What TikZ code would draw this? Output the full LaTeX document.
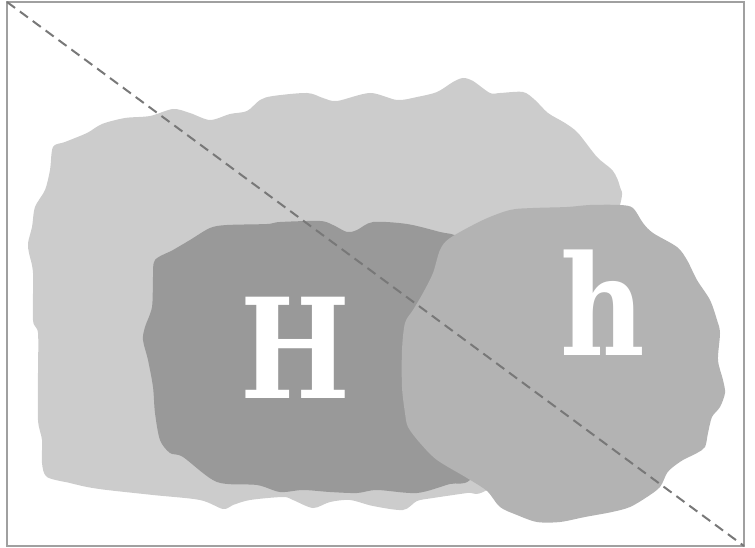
\documentclass[tikz,border=0pt]{standalone}
\usepackage{fontspec}
\newfontfamily\letterfont[FakeStretch=0.93]{DejaVu Serif Condensed}
\usetikzlibrary{positioning}
\definecolor{blobpale}{RGB}{204,204,204}
\definecolor{blobdark}{RGB}{153,153,153}
\definecolor{blobmid}{RGB}{179,179,179}
\definecolor{framegray}{RGB}{160,160,160}
\definecolor{diaggray}{RGB}{120,120,120}

\begin{document}
\begin{tikzpicture}[
        x=1pt, y=-1pt,
        blob/.style={line join=round},
        letter/.style={text=white, font=\letterfont\bfseries\fontsize{139}{139}\selectfont, inner sep=0pt, anchor=base},
        diagline/.style={diaggray, line width=2pt, dash pattern=on 10pt off 6pt}
    ]
        \useasboundingbox (0,0) rectangle (755,548);

        % large pale region
        \fill[blobpale, blob] plot[smooth cycle, tension=0.5] coordinates {
            (53,147) (65,142) (87,133) (102,124) (125,118) (150,116) (173,109)
            (190,113) (210,120) (230,114) (247,111) (260,100) (273,96) (307,93)
            (323,98) (337,101) (370,93) (397,100) (417,97) (437,92) (453,82)
            (463,78) (473,81) (490,93) (500,93) (523,92) (535,100) (548,113)
            (565,123) (578,133) (597,157) (613,171) (620,187) (620,205)
            (590,300) (560,440) (487,490) (467,493) (433,498) (417,501)
            (403,510) (373,506) (350,500) (330,502) (313,508) (293,500)
            (283,497) (250,500) (233,505) (223,509) (200,500) (153,495)
            (107,490) (87,487) (70,483) (47,477) (42,463) (42,440) (38,420)
            (38,373) (38,333) (33,320) (33,273) (29,253) (28,243) (32,227)
            (35,207) (45,190) (50,170)};

        % dark region
        \fill[blobdark, blob] plot[smooth cycle, tension=0.5] coordinates {
            (155,260) (173,250) (190,240) (210,228) (227,225) (267,224)
            (280,222) (320,221) (333,225) (347,232) (357,230) (373,222)
            (407,224) (440,232) (460,238) (490,270) (500,340) (500,440)
            (470,480) (450,484) (417,493) (377,490) (357,493) (330,492)
            (303,490) (280,492) (257,485) (217,482) (183,457) (170,453)
            (160,440) (155,413) (153,387) (148,360) (143,340) (145,327)
            (152,307) (153,277)};

        % round region
        \fill[blobmid, blob] plot[smooth cycle, tension=0.5] coordinates {
            (450,238) (483,220) (510,210) (533,208) (567,207) (590,205)
            (620,205) (633,208) (643,223) (653,233) (677,247) (687,260)
            (697,280) (710,300) (717,320) (720,333) (718,360) (723,380)
            (725,393) (720,407) (712,417) (708,433) (705,447) (697,453)
            (683,460) (673,467) (667,473) (660,487) (647,497) (630,507)
            (612,512) (585,517) (560,522) (537,522) (517,515) (500,507)
            (487,491) (467,478) (437,460) (420,443) (408,427) (405,413)
            (402,387) (402,350) (405,323) (413,310) (423,293) (433,273)
            (440,250)};

        \node[letter] (bigH) at (295,398) {H};
        \node[letter] (smallh) at (603,355) {h};

        % frame and diagonal
        \coordinate (topleft) at (7,2);
        \coordinate (botright) at (744,546);
        \draw[framegray, line width=1.5pt] (topleft) rectangle (botright);
        \draw[diagline] (topleft) -- (botright);
    \end{tikzpicture}
\end{document}
